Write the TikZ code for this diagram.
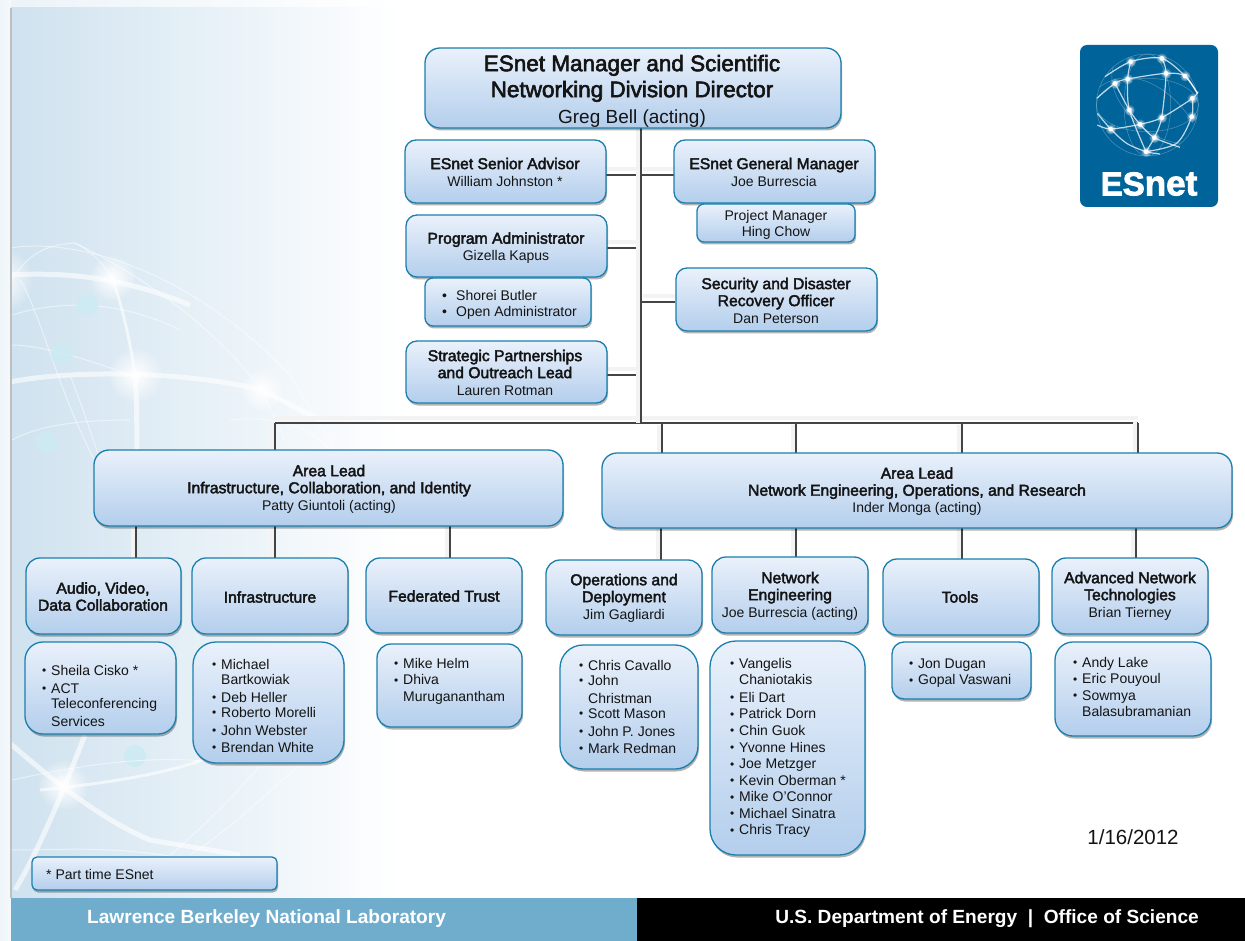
\documentclass[tikz,border=0pt]{standalone}
\usepackage{fontspec}
\usetikzlibrary{shadows,fadings}
\setmainfont{Liberation Sans}
\newfontfamily\fb[FakeBold=2.6]{Liberation Sans}
\newfontfamily\lgb[BoldFeatures={FakeBold=2.5}]{Liberation Sans}
\definecolor{bordc}{HTML}{1B7FAE}
\definecolor{topc}{HTML}{EAF1FB}
\definecolor{botc}{HTML}{B3CEEC}
\definecolor{bgc}{HTML}{CFE2EF}
\definecolor{footc}{HTML}{70ADCD}
\definecolor{logoc}{HTML}{00639A}
\definecolor{linec}{HTML}{444444}
\definecolor{bandc}{HTML}{F3F3F3}
\definecolor{txtc}{HTML}{141414}
\definecolor{dotc}{HTML}{CDEBF3}
\tikzfading[name=softglow,inner color=transparent!0,outer color=transparent!100]
\tikzset{
  x=1pt,y=-1pt,
  orgbox/.style={draw=bordc,line width=1.3pt,top color=topc,bottom color=botc,
    drop shadow={shadow xshift=1pt,shadow yshift=-2.5pt,opacity=.3,fill=black},
    inner sep=0pt},
  lab/.style={inner sep=0pt,align=center,text=txtc,font=\fontsize{14}{17}\selectfont},
  lst/.style={inner sep=0pt,align=left,anchor=north west,text=txtc,font=\fontsize{14}{16.5}\selectfont},
  linkdark/.style={draw=linec,line width=2.6pt},
  linkband/.style={draw=bandc,line width=4pt},
  arcthick/.style={draw=white,opacity=.6,line width=5pt},
  arcmid/.style={draw=white,opacity=.6,line width=3pt},
  arcthin/.style={draw=white,opacity=.5,line width=1pt},
  glow/.style={fill=white,path fading=softglow},
  bgdot/.style={fill=dotc,opacity=.9},
  globeline/.style={draw=white,opacity=.75,line width=1.2pt,smooth},
  globefine/.style={draw=white,opacity=.3,line width=.5pt,smooth}
}
% box: name x1 y1 x2 y2 radius
\newcommand{\ob}[6]{%
  \pgfmathsetmacro{\cxx}{(#2+#4)/2}\pgfmathsetmacro{\cyy}{(#3+#5)/2}%
  \pgfmathsetmacro{\wdd}{#4-#2}\pgfmathsetmacro{\htt}{#5-#3}%
  \node[orgbox,rounded corners=#6pt,minimum width=\wdd pt,minimum height=\htt pt] (#1) at (\cxx,\cyy) {};}
\newcommand{\ttl}[1]{{\fontsize{15.7}{17.5}\selectfont\fb #1}}
\newcommand{\li}[1]{\makebox[9pt][l]{\raisebox{.8pt}{\scalebox{.85}{•}}}#1}
\newcommand{\lj}[1]{\hspace*{9pt}#1}
\newcommand{\vlnk}[2]{\draw[linkband] ([xshift=-3.5pt]#1) -- ([xshift=-3.5pt]#2);\draw[linkdark] (#1) -- (#2);}
\newcommand{\hlnk}[2]{\draw[linkband] ([yshift=5.5pt]#1) -- ([yshift=5.5pt]#2);\draw[linkdark] (#1) -- (#2);}
\begin{document}
\begin{tikzpicture}
\useasboundingbox (0,0) rectangle (1245,941);
\fill[white] (0,0) rectangle (1245,941);
% background
\fill[left color=bgc!40!white,right color=white] (0,0) rectangle (400,8);
\fill[left color=bgc!35!white,right color=bgc!20!white] (0,0) rectangle (11,941);
\begin{scope}
\clip (11,8) rectangle (400,898);
\fill[left color=bgc,right color=white] (11,8) rectangle (400,898);
\path[arcthick] (-10,276) .. controls (50,272) and (110,272) .. (190,305);
\path[arcthick] (0,384) .. controls (70,368) and (190,372) .. (262,390) -- (320,420);
\path[arcthin] (75,243) .. controls (90,250) and (105,265) .. (112,278);
\path[arcmid] (112,278) .. controls (122,305) and (130,340) .. (135,375);
\path[arcthick] (135,375) .. controls (137,400) and (137,440) .. (137,480);
\path[arcthin] (0,250) .. controls (60,235) and (180,260) .. (290,375) -- (335,450);
\path[arcthin] (75,243) .. controls (120,265) and (200,310) .. (262,390) -- (285,440);
\path[arcthin] (12,280) .. controls (30,250) and (50,245) .. (75,243);
\path[arcthin] (20,280) .. controls (40,310) and (60,400) .. (100,470);
\path[arcthin] (12,315) .. controls (60,300) and (120,300) .. (180,330);
\path[arcthin] (12,345) .. controls (40,345) and (90,360) .. (130,375);
\path[arcthin] (70,375) .. controls (80,400) and (90,430) .. (100,460);
\path[arcthin] (12,440) .. controls (40,425) and (80,420) .. (130,420);
\path[arcthin] (230,420) .. controls (270,415) and (310,425) .. (330,450);
\fill[bgdot] (87,305) circle (11);
\fill[bgdot] (62,354) circle (11);
\fill[bgdot] (47,443) circle (11);
\fill[bgdot] (135,756) circle (11);
\fill[glow] (112,278) circle (24);
\fill[glow] (135,375) circle (28);
\fill[glow] (262,390) circle (22);
\fill[glow] (0,280) circle (34);
% lower part
\path[arcthick] (0,735) .. controls (30,760) and (90,815) .. (150,840) -- (240,855);
\path[arcthick] (85,735) .. controls (75,760) and (45,840) .. (15,890);
\path[arcthin] (12,780) .. controls (60,770) and (150,750) .. (235,765);
\path[arcmid] (40,790) .. controls (90,785) and (170,775) .. (215,755);
\path[arcthin] (170,855) .. controls (200,830) and (240,790) .. (260,765);
\path[arcthin] (190,855) .. controls (230,830) and (270,790) .. (300,765);
\path[arcthin] (12,850) .. controls (60,850) and (120,845) .. (190,860);
\fill[glow] (63,785) circle (26);
\end{scope}
\draw[draw=black!25,line width=1.5pt] (11,8) -- (11,898);
% footer
\fill[footc] (11,898) rectangle (637,941);
\fill[black] (637,898) rectangle (1245,941);
\node[lab,text=white,font=\fontsize{19.1}{21}\selectfont\bfseries,anchor=west] (lbl) at (87,919) {Lawrence Berkeley National Laboratory};
\node[lab,text=white,font=\fontsize{19.1}{21}\selectfont\bfseries,anchor=east] (doe) at (1199,919) {U.S. Department of Energy~~|~~Office of Science};
% logo
\fill[logoc,rounded corners=7pt] (1080,45) rectangle (1218,207);
\begin{scope}[shift={(1060,30)},scale=1/3]
\draw[globefine] (262,225) circle (153);
\draw[globefine] (262,225) ellipse (153 and 80);
\draw[globefine] (262,225) ellipse (70 and 153);
\draw[globefine] (120,170) .. controls (220,100) and (340,180) .. (400,280);
\draw[globefine] (160,110) .. controls (130,200) and (250,330) .. (360,340);
\draw[globeline] plot coordinates {(110,205) (165,160) (203,147) (318,130) (375,138) (412,190)};
\draw[globeline] plot coordinates {(135,140) (212,95) (305,85) (375,138) (412,190)};
\draw[globeline] plot coordinates {(112,285) (152,297) (240,283) (305,263) (397,205) (414,185)};
\draw[globeline] plot coordinates {(212,95) (203,147) (208,240) (258,365)};
\draw[globeline] plot coordinates {(305,85) (318,130) (305,263) (283,323) (258,365)};
\draw[globeline] plot coordinates {(165,160) (208,240) (240,283) (283,323) (360,352)};
\draw[globeline] plot coordinates {(112,250) (152,297) (200,340) (258,365) (300,372)};
\draw[globeline] plot coordinates {(397,205) (395,260) (350,340) (258,365)};
\foreach \px/\py in {212/95,305/85,318/130,375/138,397/205,395/260,305/263,283/323,258/365,152/297,240/283,208/240,165/160,203/147}{
  \fill[glow] (\px,\py) circle (17);
  \fill[white] (\px,\py) circle (7);
}
\end{scope}
\node[inner sep=0pt,text=white,font=\lgb\bfseries] (logotxt) at (1149,184) {{\fontsize{33}{36}\selectfont ES}{\fontsize{35}{36}\selectfont net}};
% coordinates
\coordinate (trT) at (641,128);
\coordinate (trB) at (641,423);
\coordinate (busL) at (275,423);
\coordinate (busR) at (1138,423);
\coordinate (b2) at (662,423);
\coordinate (b3) at (796,423);
\coordinate (b4) at (962,423);
% connectors (under the boxes)
\hlnk{busL}{busR}
\vlnk{trT}{trB}
\draw[linkband] (271.5,421) -- (271.5,450);
\draw[linkdark] (busL) -- (275,451);
\draw[linkband] (658.5,425) -- (658.5,453);
\draw[linkdark] (b2) -- (662,454);
\draw[linkband] (792.5,425) -- (792.5,453);
\draw[linkdark] (b3) -- (796,454);
\draw[linkband] (958.5,425) -- (958.5,453);
\draw[linkdark] (b4) -- (962,454);
\draw[linkband] (1134.5,421) -- (1134.5,453);
\draw[linkdark] (busR) -- (1138,454);
\foreach \xa/\ya/\yb in {136/526/558,275/526/558,450/526/558,661/528/560,796/528/557,962/528/559,1136/528/558}{
  \draw[linkband] (\xa-3.5,\ya) -- (\xa-3.5,\yb);
  \draw[linkdark] (\xa,\ya) -- (\xa,\yb);
}
\foreach \yy in {175,248,375}{
  \draw[linkband] (606,\yy-6) -- (636,\yy-6);
  \draw[linkdark] (606,\yy) -- (636,\yy);
}
\foreach \yy in {175,302}{
  \draw[linkband] (643,\yy-6) -- (675,\yy-6);
  \draw[linkdark] (641,\yy) -- (675,\yy);
}
% boxes
\ob{top}{425}{48}{841}{128}{15}
\ob{senior}{405}{140}{606}{203}{11}
\ob{gm}{674}{140}{875}{203}{11}
\ob{pm}{697}{204}{855}{242}{7}
\ob{prog}{406}{215}{607}{277}{11}
\ob{adm}{425}{278}{591}{326}{8}
\ob{sec}{676}{268}{877}{331}{11}
\ob{strat}{406}{341}{607}{403}{11}
\ob{leadA}{94}{450}{563}{526}{15}
\ob{leadB}{602}{453}{1232}{528}{15}
\ob{audio}{26}{558}{181}{634}{14}
\ob{infra}{192}{558}{348}{634}{14}
\ob{fed}{366}{558}{522}{633}{14}
\ob{ops}{546}{560}{702}{635}{14}
\ob{neteng}{712}{557}{868}{633}{14}
\ob{tools}{883}{559}{1039}{635}{14}
\ob{adv}{1052}{558}{1208}{634}{14}
\ob{audiol}{25}{642}{176}{734}{18}
\ob{infral}{193}{642}{344}{763}{23}
\ob{fedl}{377}{644}{522}{727}{14}
\ob{opsl}{560}{645}{698}{769}{23}
\ob{netl}{710}{641}{865}{855}{26}
\ob{toolsl}{892}{642}{1031}{699}{12}
\ob{advl}{1055}{642}{1211}{736}{18}
\ob{note}{32}{857}{277}{890}{5}
% texts
\node[lab,font=\fontsize{22.5}{26}\selectfont] (topt) at (632,91) {{\fb ESnet Manager and Scientific}\\{\fb Networking Division Director}\\{\fontsize{19}{25}\selectfont Greg Bell (acting)}};
\node[lab] (seniort) at (505,172) {\ttl{ESnet Senior Advisor}\\William Johnston *};
\node[lab] (gmt) at (774,172) {\ttl{ESnet General Manager}\\Joe Burrescia};
\node[lab,font=\fontsize{14}{16}\selectfont] (pmt) at (776,225) {Project Manager\\Hing Chow};
\node[lab] (progt) at (506,248) {\ttl{Program Administrator}\\Gizella Kapus};
\node[lst,font=\fontsize{14}{16}\selectfont] (admt) at (442,290) {\makebox[14pt][l]{•}Shorei Butler\\\makebox[14pt][l]{•}Open Administrator};
\node[lab] (sect) at (776,300.5) {\ttl{Security and Disaster}\\\ttl{Recovery Officer}\\Dan Peterson};
\node[lab] (stratt) at (505,372.5) {\ttl{Strategic Partnerships}\\\ttl{and Outreach Lead}\\Lauren Rotman};
\node[lab] (leadAt) at (329,489) {\ttl{Area Lead}\\\ttl{Infrastructure, Collaboration, and Identity}\\Patty Giuntoli (acting)};
\node[lab] (leadBt) at (917,491.5) {\ttl{Area Lead}\\\ttl{Network Engineering, Operations, and Research}\\Inder Monga (acting)};
\node[lab] (audiot) at (103,596.5) {\ttl{Audio, Video,}\\\ttl{Data Collaboration}};
\node[lab] (infrat) at (270,597) {\ttl{Infrastructure}};
\node[lab] (fedt) at (444,596) {\ttl{Federated Trust}};
\node[lab] (opst) at (624,598) {\ttl{Operations and}\\\ttl{Deployment}\\Jim Gagliardi};
\node[lab] (netengt) at (790,596) {\ttl{Network}\\\ttl{Engineering}\\Joe Burrescia (acting)};
\node[lab] (toolst) at (960,597) {\ttl{Tools}};
\node[lab] (advt) at (1130,596) {\ttl{Advanced Network}\\\ttl{Technologies}\\Brian Tierney};
\node[lst] (audiolt) at (42,665) {\li{Sheila Cisko *}\\[1.5pt]\li{ACT}\\[-1.5pt]\lj{Teleconferencing}\\[1.5pt]\lj{Services}};
\node[lst] (infralt) at (212,659) {\li{Michael}\\[-1.5pt]\lj{Bartkowiak}\\[1.5pt]\li{Deb Heller}\\[-1.5pt]\li{Roberto Morelli}\\[1.5pt]\li{John Webster}\\[.5pt]\li{Brendan White}};
\node[lst] (fedlt) at (394,658) {\li{Mike Helm}\\\li{Dhiva}\\\lj{Muruganantham}};
\node[lst] (opslt) at (579,660) {\li{Chris Cavallo}\\[-1.5pt]\li{John}\\[1.5pt]\lj{Christman}\\[-1.5pt]\li{Scott Mason}\\[1.5pt]\li{John P. Jones}\\[.5pt]\li{Mark Redman}};
\node[lst] (netlt) at (730,658) {\li{Vangelis}\\[-.5pt]\lj{Chaniotakis}\\[1.5pt]\li{Eli Dart}\\\li{Patrick Dorn}\\\li{Chin Guok}\\[.5pt]\li{Yvonne Hines}\\\li{Joe Metzger}\\\li{Kevin Oberman *}\\\li{Mike O’Connor}\\\li{Michael Sinatra}\\\li{Chris Tracy}};
\node[lst] (toolslt) at (909,658.5) {\li{Jon Dugan}\\\li{Gopal Vaswani}};
\node[lst] (advlt) at (1073,657) {\li{Andy Lake}\\\li{Eric Pouyoul}\\\li{Sowmya}\\\lj{Balasubramanian}};
\node[lab,anchor=west,font=\fontsize{14}{15}\selectfont] (notet) at (46,874) {* Part time ESnet};
\node[lab,font=\fontsize{20.5}{22}\selectfont] (date) at (1133,837) {1/16/2012};
\end{tikzpicture}
\end{document}
